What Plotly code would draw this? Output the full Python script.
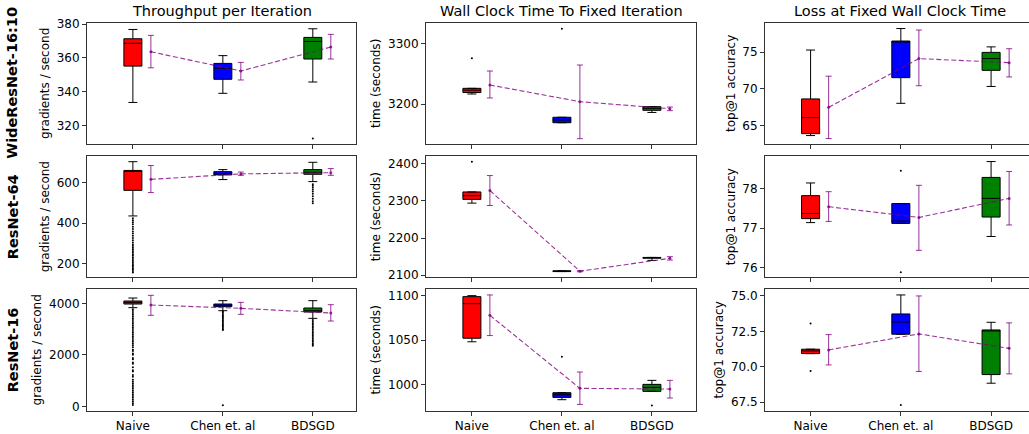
import numpy as np
import plotly.graph_objects as go
from plotly.subplots import make_subplots

W, H = 1029, 434

categories = ["Naive", "Chen et. al", "BDSGD"]
box_colors = ["red", "blue", "green"]
models = ["WideResNet-16:10", "ResNet-64", "ResNet-16"]
metrics = ["Throughput per Iteration", "Wall Clock Time To Fixed Iteration", "Loss at Fixed Wall Clock Time"]
ylabels = ["gradients / second", "time (seconds)", "top@1 accuracy"]

# ---- box statistics: [lower whisker, q1, median, q3, upper whisker] per method ----
# Throughput
tp_wrn = [[333.6, 355.1, 368.6, 371.3, 376.8], [339.0, 347.3, 353.8, 356.7, 361.3], [345.7, 359.3, 369.7, 372.1, 377.2]]
tp_r64 = [[436, 562, 657, 660, 703], [615, 638, 644, 654, 664], [605, 641, 651, 664, 700]]
tp_r16 = [[3832, 3974, 4039, 4091, 4207], [3715, 3870, 3922, 3974, 4104], [3417, 3663, 3715, 3819, 4104]]
# Wall clock
wc_wrn = [[3216.6, 3219, 3223, 3226, 3226], [3169, 3169, 3173.5, 3178, 3178], [3186, 3189.5, 3192.8, 3195.6, 3195.6]]
wc_r64 = [[2294, 2304, 2314, 2324, 2324], [2110, 2110, 2111, 2112, 2112], [2140, 2146, 2147, 2148, 2148]]
wc_r16 = [[1048, 1052, 1091, 1098.9, 1100], [982.7, 985.3, 988.3, 990.6, 990.6], [992.1, 992.1, 996.6, 1000, 1004.5]]
# Accuracy
ac_wrn = [[63.6, 63.86, 66.05, 68.6, 75.27], [68.0, 71.5, 76.4, 76.5, 78.2], [70.3, 72.5, 74.1, 74.95, 75.7]]
ac_r64 = [[77.14, 77.24, 77.37, 77.82, 78.14], [77.12, 77.12, 77.18, 77.62, 77.62], [76.79, 77.28, 77.75, 78.28, 78.68]]
ac_r16 = [[70.93, 70.93, 71.12, 71.24, 71.24], [72.3, 72.3, 73.16, 73.73, 75.07], [68.84, 69.45, 72.6, 72.6, 73.14]]

# ---- outliers per method ----
out_tp_wrn = [[], [], [312.3]]
out_tp_r64 = [[425, 415, 405, 395, 383, 372, 360, 350, 338, 327, 316, 305, 296, 288, 280, 272, 264, 256, 248, 240, 232,
               224, 216, 208, 200, 193, 186, 179, 172, 165, 158],
              [],
              [592, 584, 576, 566, 556, 545, 533, 520, 508, 498]]
out_tp_r16 = [[3767, 3700, 3630, 3560, 3490, 3420, 3350, 3280, 3210, 3140, 3070, 3000, 2930, 2860, 2790, 2720, 2650, 2580,
               2510, 2440, 2370, 2300, 2200, 2150, 2050, 2000, 1880, 1830, 1700, 1650, 1520, 1400, 1350, 1220, 1150,
               1030, 960, 890, 820, 750, 680, 610, 540, 470, 400, 330, 260, 190, 120, 52],
              [3690, 3640, 3590, 3540, 3490, 3440, 3390, 3340, 3290, 3240, 3190, 3140, 3090, 3040, 2990, 2964, 39],
              [3350, 3290, 3230, 3170, 3110, 3050, 2990, 2930, 2870, 2810, 2750, 2690, 2630, 2570, 2510, 2450, 2400, 2356]]
out_wc_wrn = [[3275.7], [3324.9], []]
out_wc_r64 = [[2405], [], []]
out_wc_r16 = [[], [1031], [976.3]]
out_ac_wrn = [[], [], []]
out_ac_r64 = [[], [78.45, 75.89], []]
out_ac_r16 = [[73.05, 69.7], [67.3], []]

# ---- mean and error-bar bounds per method ----
mean_tp_wrn, hi_tp_wrn, lo_tp_wrn = [363.6, 352.2, 366.4], [373.3, 357.3, 373.9], [354.1, 346.9, 359.3]
mean_tp_r64, hi_tp_r64, lo_tp_r64 = [616, 643, 649], [684, 652, 669], [551, 636, 636]
mean_tp_r16, hi_tp_r16, lo_tp_r16 = [3935, 3806, 3625], [4311, 4039, 3948], [3534, 3573, 3314]
mean_wc_wrn, hi_wc_wrn, lo_wc_wrn = [3231.5, 3203.9, 3192.3], [3254.7, 3264.6, 3195], [3210, 3142.5, 3189]
mean_wc_r64, hi_wc_r64, lo_wc_r64 = [2327.8, 2111, 2145.7], [2368, 2112.5, 2150], [2287.6, 2109.5, 2141]
mean_wc_r16, hi_wc_r16, lo_wc_r16 = [1077.8, 995.5, 994.7], [1100.8, 1013.9, 1004.5], [1055, 977.4, 984.6]
mean_ac_wrn, hi_ac_wrn, lo_ac_wrn = [67.45, 74.1, 73.55], [71.7, 78.0, 75.45], [63.2, 70.4, 71.6]
mean_ac_r64, hi_ac_r64, lo_ac_r64 = [77.54, 77.27, 77.75], [77.92, 78.08, 78.43], [77.17, 76.44, 77.08]
mean_ac_r16, hi_ac_r16, lo_ac_r16 = [71.19, 72.32, 71.3], [72.27, 75.0, 73.1], [70.13, 69.67, 69.5]

# ---- axis ranges / ticks ----
yranges = [[[309, 380.8], [3133.7, 3334.8], [62.45, 79.0]],
           [[134, 731], [2094.6, 2420.6], [75.76, 78.82]],
           [[-168, 4557], [970.3, 1107.5], [66.9, 75.49]]]
yticks = [[[320, 340, 360, 380], [3200, 3300], [65, 70, 75]],
          [[200, 400, 600], [2100, 2200, 2300, 2400], [76, 77, 78]],
          [[0, 2000, 4000], [1000, 1050, 1100], [67.5, 70.0, 72.5, 75.0]]]
ytickfmt = [["", "", ""], ["", "", ""], ["", "", ".1f"]]

stats = [[tp_wrn, wc_wrn, ac_wrn], [tp_r64, wc_r64, ac_r64], [tp_r16, wc_r16, ac_r16]]
outs = [[out_tp_wrn, out_wc_wrn, out_ac_wrn], [out_tp_r64, out_wc_r64, out_ac_r64], [out_tp_r16, out_wc_r16, out_ac_r16]]
means = [[(mean_tp_wrn, hi_tp_wrn, lo_tp_wrn), (mean_wc_wrn, hi_wc_wrn, lo_wc_wrn), (mean_ac_wrn, hi_ac_wrn, lo_ac_wrn)],
         [(mean_tp_r64, hi_tp_r64, lo_tp_r64), (mean_wc_r64, hi_wc_r64, lo_wc_r64), (mean_ac_r64, hi_ac_r64, lo_ac_r64)],
         [(mean_tp_r16, hi_tp_r16, lo_tp_r16), (mean_wc_r16, hi_wc_r16, lo_wc_r16), (mean_ac_r16, hi_ac_r16, lo_ac_r16)]]

positions = [1, 2, 3]
err_offset = 0.2

# pixel layout of the panels
col_px = [(87, 356), (426, 696), (765, 1029)]
row_px = [(22.7, 144), (156, 277.3), (289, 410.7)]
xranges = [[0.49, 3.48], [0.49, 3.49], [0.495, 3.42]]

fig = make_subplots(rows=3, cols=3)

purple = "rgba(128,0,128,0.8)"
font = "DejaVu Sans"

for r in range(3):
    for c in range(3):
        for i in range(3):
            lo, q1, med, q3, hi = stats[r][c][i]
            fig.add_trace(go.Box(x=[positions[i]], lowerfence=[lo], q1=[q1], median=[med], q3=[q3], upperfence=[hi],
                                 width=0.2, whiskerwidth=0.5, fillcolor=box_colors[i],
                                 line=dict(color="black", width=1), boxpoints=False,
                                 showlegend=False, hoverinfo="skip"), row=r + 1, col=c + 1)
            o = outs[r][c][i]
            if o:
                fig.add_trace(go.Scatter(x=[positions[i]] * len(o), y=o, mode="markers",
                                         marker=dict(color="black", size=2), showlegend=False,
                                         hoverinfo="skip"), row=r + 1, col=c + 1)
        m, h, l = means[r][c]
        m = np.array(m); h = np.array(h); l = np.array(l)
        fig.add_trace(go.Scatter(x=np.array(positions) + err_offset, y=m, mode="lines+markers",
                                 line=dict(color=purple, width=1.1, dash="5px,2.5px"),
                                 marker=dict(color=purple, size=3),
                                 error_y=dict(type="data", symmetric=False, array=h - m, arrayminus=m - l,
                                              color=purple, thickness=1, width=3),
                                 showlegend=False, hoverinfo="skip"), row=r + 1, col=c + 1)

        idx = r * 3 + c + 1
        xa = "xaxis" if idx == 1 else f"xaxis{idx}"
        ya = "yaxis" if idx == 1 else f"yaxis{idx}"
        x0, x1 = col_px[c]
        y0, y1 = row_px[r]
        fig.layout[xa].update(domain=[x0 / W, x1 / W], range=xranges[c], tickmode="array",
                              tickvals=positions, ticktext=categories if r == 2 else ["", "", ""],
                              ticks="outside", ticklen=4, tickcolor="#333", showgrid=False, zeroline=False,
                              showline=True, linecolor="#333", linewidth=1, mirror=True, automargin=False,
                              tickfont=dict(family=font, size=12, color="black"))
        fig.layout[ya].update(domain=[1 - y1 / H, 1 - y0 / H], range=yranges[r][c], tickmode="array",
                              tickvals=yticks[r][c], tickformat=ytickfmt[r][c],
                              ticks="outside", ticklen=4, tickcolor="#333", showgrid=False, zeroline=False,
                              showline=True, linecolor="#333", linewidth=1, mirror=True, automargin=False,
                              tickfont=dict(family=font, size=12, color="black"),
                              title=dict(text=ylabels[c], font=dict(family=font, size=12, color="black"),
                                         standoff=4))

annotations = []
for c in range(3):
    x0, x1 = col_px[c]
    cx = (x0 + x1) / 2 if c < 2 else (x0 + 1035) / 2
    annotations.append(dict(text=metrics[c], x=cx / W, y=1 - 11 / H, xref="paper", yref="paper",
                            xanchor="center", yanchor="middle", showarrow=False,
                            font=dict(family=font, size=14.5, color="black")))
for r in range(3):
    y0, y1 = row_px[r]
    annotations.append(dict(text=f"<b>{models[r]}</b>", x=12.5 / W, y=1 - (y0 + y1) / 2 / H, xref="paper",
                            yref="paper", xanchor="center", yanchor="middle", textangle=-90, showarrow=False,
                            font=dict(family=font, size=14.5, color="black")))

fig.update_layout(width=W, height=H, margin=dict(l=0, r=0, t=0, b=0, autoexpand=False), plot_bgcolor="white",
                  paper_bgcolor="white", annotations=annotations, boxmode="overlay")

fig.write_html("out.html", config={"displayModeBar": False},
               post_script="document.body.style.margin='0';document.body.style.overflow='hidden';")
